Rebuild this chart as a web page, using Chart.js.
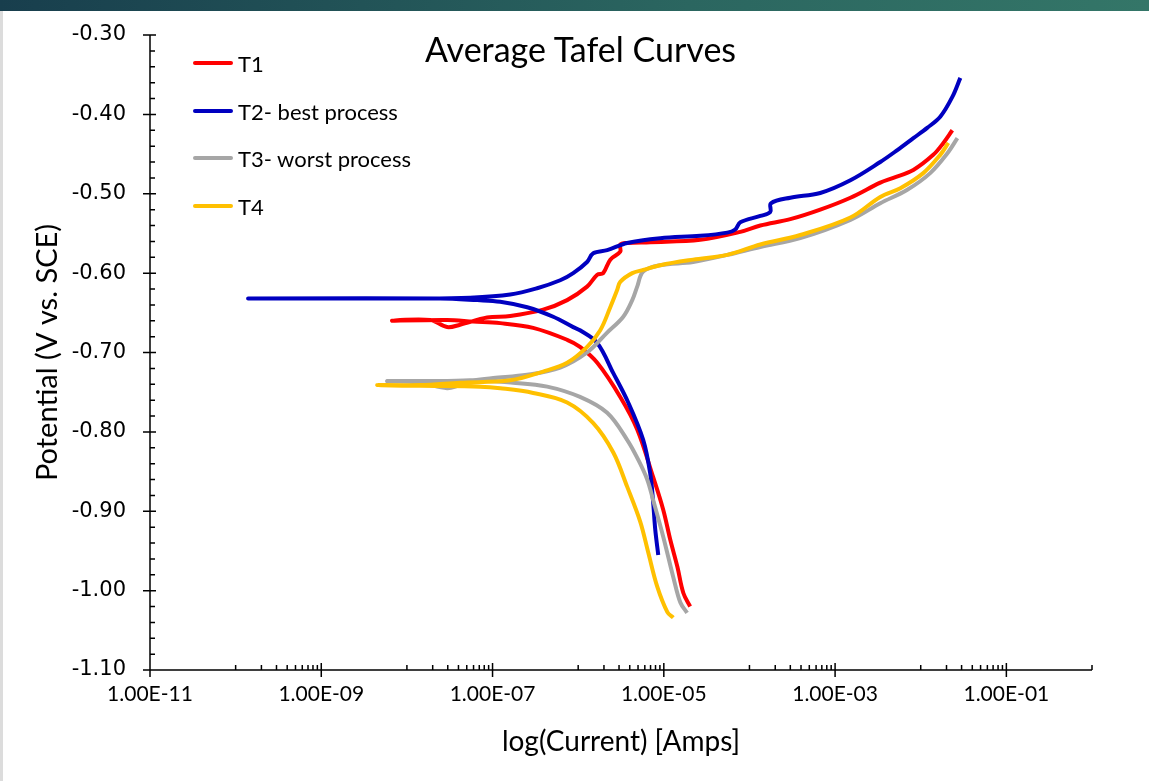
<!DOCTYPE html>
<html>
<head>
<meta charset="utf-8">
<title>Average Tafel Curves</title>
<script src="https://cdn.jsdelivr.net/npm/chart.js@4.4.1/dist/chart.umd.min.js"></script>
<style>
    html, body { margin: 0; padding: 0; background: #ffffff; }
    body { width: 1149px; height: 781px; position: relative; overflow: hidden; font-family: 'Lato', sans-serif; }
    #top-bar { position: absolute; left: 0; top: 0; width: 1149px; height: 11px; background: linear-gradient(to right, #183e4d, #2b6660 60%, #347668); }
    #left-edge { position: absolute; left: 0; top: 11px; width: 3px; height: 770px; background: #dcdcdc; }
    #chart-box { position: absolute; left: 0; top: 0; width: 1149px; height: 781px; }
    #chart-title { position: absolute; left: 0; width: 1161px; top: 28px; text-align: center; font-size: 34px; color: #000; }
    .legend-item { position: absolute; left: 193px; height: 24px; display: flex; align-items: center; font-size: 22px; color: #000; }
    .legend-item .swatch { width: 40px; height: 4px; border-radius: 2px; margin-right: 5px; }
</style>
</head>
<body>
<div id="top-bar"></div>
<div id="left-edge"></div>
<div id="chart-box"><canvas id="tafel-chart" width="1149" height="781"></canvas></div>
<div id="chart-title">Average Tafel Curves</div>
<div id="legend"></div>

<script>
// Series: current (A) and potential (V vs. SCE)
const seriesNames = ['T1', 'T2- best process', 'T3- worst process', 'T4'];
const seriesColors = ['#ff0000', '#0000c0', '#a6a6a6', '#ffc000'];

const t1Current = [2.03e-5, 1.69e-5, 1.44e-5, 1.19e-5, 9.84e-6, 7.51e-6, 4.89e-6, 3.10e-6, 1.67e-6, 1.05e-6, 7.43e-7, 2.98e-7, 1.23e-7, 5.93e-8, 2.95e-8, 6.72e-9, 1.87e-8, 2.95e-8, 4.18e-8, 8.65e-8, 1.61e-7, 3.90e-7, 7.43e-7, 1.27e-6, 1.67e-6, 1.96e-6, 2.37e-6, 3.10e-6, 3.10e-6, 3.73e-6, 6.93e-6, 2.66e-5, 7.82e-5, 1.34e-4, 3.00e-4, 6.71e-4, 1.51e-3, 3.37e-3, 4.79e-3, 8.20e-3, 1.40e-2, 1.84e-2, 2.34e-2];
const t1Potential = [-1.020, -1.003, -0.970, -0.936, -0.898, -0.857, -0.797, -0.756, -0.713, -0.693, -0.684, -0.669, -0.663, -0.661, -0.659, -0.660, -0.659, -0.668, -0.665, -0.656, -0.654, -0.646, -0.634, -0.617, -0.602, -0.600, -0.583, -0.573, -0.564, -0.562, -0.561, -0.558, -0.548, -0.540, -0.532, -0.520, -0.505, -0.486, -0.480, -0.470, -0.451, -0.436, -0.420];

const t2Current = [8.61e-6, 7.94e-6, 7.51e-6, 6.93e-6, 5.74e-6, 3.84e-6, 2.57e-6, 1.67e-6, 1.05e-6, 8.75e-7, 5.11e-7, 2.54e-7, 1.23e-7, 6.61e-8, 2.44e-8, 1.40e-10, 1.43e-8, 5.47e-8, 1.61e-7, 3.32e-7, 6.17e-7, 8.75e-7, 1.27e-6, 1.50e-6, 2.18e-6, 3.73e-6, 9.08e-6, 2.66e-5, 5.51e-5, 6.82e-5, 7.82e-5, 1.34e-4, 1.75e-4, 1.78e-4, 3.00e-4, 6.71e-4, 1.51e-3, 3.37e-3, 5.33e-3, 8.20e-3, 1.19e-2, 1.69e-2, 2.34e-2, 2.90e-2];
const t2Potential = [-0.955, -0.923, -0.889, -0.852, -0.810, -0.763, -0.726, -0.688, -0.672, -0.668, -0.655, -0.643, -0.636, -0.634, -0.632, -0.632, -0.632, -0.631, -0.627, -0.619, -0.609, -0.600, -0.586, -0.575, -0.571, -0.562, -0.556, -0.553, -0.549, -0.545, -0.536, -0.528, -0.523, -0.512, -0.505, -0.499, -0.483, -0.460, -0.445, -0.430, -0.417, -0.403, -0.378, -0.354];

const t3Current = [1.87e-5, 1.56e-5, 1.29e-5, 9.84e-6, 7.51e-6, 6.40e-6, 5.02e-6, 3.73e-6, 2.18e-6, 1.05e-6, 4.35e-7, 1.74e-7, 7.16e-8, 4.18e-8, 2.95e-8, 1.43e-8, 5.87e-9, 1.87e-8, 5.47e-8, 1.02e-7, 2.54e-7, 6.17e-7, 1.27e-6, 2.18e-6, 3.36e-6, 4.28e-6, 4.89e-6, 5.74e-6, 9.08e-6, 2.20e-5, 5.51e-5, 1.34e-4, 3.92e-4, 1.51e-3, 3.37e-3, 6.97e-3, 1.29e-2, 2.05e-2, 2.68e-2];
const t3Potential = [-1.028, -1.015, -0.983, -0.932, -0.886, -0.860, -0.835, -0.810, -0.776, -0.756, -0.743, -0.738, -0.736, -0.741, -0.745, -0.738, -0.736, -0.736, -0.735, -0.732, -0.728, -0.719, -0.700, -0.675, -0.655, -0.634, -0.617, -0.598, -0.590, -0.586, -0.577, -0.567, -0.556, -0.533, -0.512, -0.495, -0.474, -0.449, -0.430];

const t4Current = [1.29e-5, 1.10e-5, 8.38e-6, 6.58e-6, 5.30e-6, 3.73e-6, 2.57e-6, 1.50e-6, 7.43e-7, 2.98e-7, 1.23e-7, 7.16e-8, 1.43e-8, 4.49e-9, 1.43e-8, 4.18e-8, 1.61e-7, 3.90e-7, 7.43e-7, 1.27e-6, 1.81e-6, 2.37e-6, 2.86e-6, 3.10e-6, 4.28e-6, 5.74e-6, 9.08e-6, 2.20e-5, 5.51e-5, 1.34e-4, 3.92e-4, 1.51e-3, 3.37e-3, 5.78e-3, 1.07e-2, 1.69e-2, 2.10e-2];
const t4Potential = [-1.034, -1.027, -0.995, -0.952, -0.913, -0.869, -0.826, -0.789, -0.763, -0.751, -0.745, -0.743, -0.742, -0.741, -0.741, -0.738, -0.735, -0.724, -0.713, -0.693, -0.672, -0.643, -0.621, -0.611, -0.600, -0.596, -0.590, -0.583, -0.577, -0.564, -0.552, -0.530, -0.504, -0.493, -0.474, -0.451, -0.436];

// Axis ticks
const xTickValues = [1e-11, 1e-9, 1e-7, 1e-5, 1e-3, 1e-1];
const xTickLabels = ['1.00E-11', '1.00E-09', '1.00E-07', '1.00E-05', '1.00E-03', '1.00E-01'];
const yTickValues = [-1.10, -1.00, -0.90, -0.80, -0.70, -0.60, -0.50, -0.40, -0.30];
const yTickLabels = ['-1.10', '-1.00', '-0.90', '-0.80', '-0.70', '-0.60', '-0.50', '-0.40', '-0.30'];

document.addEventListener('DOMContentLoaded', function() {
    const currents = [t1Current, t2Current, t3Current, t4Current];
    const potentials = [t1Potential, t2Potential, t3Potential, t4Potential];

    // Legend (same as Excel: short line + text)
    const legendEl = document.getElementById('legend');
    const legendTops = [51, 99, 146, 194];
    seriesNames.forEach((name, i) => {
        const item = document.createElement('div');
        item.className = 'legend-item';
        item.style.top = legendTops[i] + 'px';
        item.innerHTML = '<div class="swatch" style="background:' + seriesColors[i] + '"></div><span>' + name + '</span>';
        legendEl.appendChild(item);
    });

    // Axis lines with major / minor ticks, drawn from the scales
    const axisTicks = {
        id: 'axisTicks',
        afterDraw(chart) {
            const ctx = chart.ctx;
            const xs = chart.scales.x;
            const ys = chart.scales.y;
            const area = chart.chartArea;
            ctx.save();
            ctx.strokeStyle = '#000';
            ctx.lineWidth = 1.5;
            ctx.beginPath();
            ctx.moveTo(area.left, area.top);
            ctx.lineTo(area.left, area.bottom);
            ctx.moveTo(area.left, area.bottom);
            ctx.lineTo(area.right, area.bottom);

            // y: major every 0.1, minor every 0.02
            for (let i = 0; i <= 40; i++) {
                const py = ys.getPixelForValue(-1.10 + i * 0.02);
                if (i % 5 === 0) {
                    ctx.moveTo(area.left - 7, py);
                    ctx.lineTo(area.left + 6, py);
                } else {
                    ctx.moveTo(area.left, py);
                    ctx.lineTo(area.left + 5, py);
                }
            }

            // x: major every two decades, minor k*10^n in the odd decades
            xTickValues.forEach(v => {
                const px = xs.getPixelForValue(v);
                ctx.moveTo(px, area.bottom + 7);
                ctx.lineTo(px, area.bottom - 7);
            });
            for (let e = -10; e <= 0; e += 2) {
                for (let k = 1; k <= 9; k++) {
                    const v = k * Math.pow(10, e);
                    if (v > 1.0000001) break;
                    const px = xs.getPixelForValue(v);
                    ctx.moveTo(px, area.bottom);
                    ctx.lineTo(px, area.bottom - 5);
                }
            }
            ctx.stroke();
            ctx.restore();
        }
    };

    const datasets = seriesNames.map((name, i) => ({
        label: name,
        data: currents[i].map((c, j) => ({ x: c, y: potentials[i][j] })),
        borderColor: seriesColors[i],
        backgroundColor: seriesColors[i],
        borderWidth: 4,
        pointRadius: 0,
        tension: 0.35,
        fill: false,
        order: seriesNames.length - i
    }));

    const ctx = document.getElementById('tafel-chart').getContext('2d');
    new Chart(ctx, {
        type: 'line',
        data: { datasets: datasets },
        options: {
            responsive: false,
            animation: false,
            layout: { padding: { left: 0, top: 35, right: 57, bottom: 0 } },
            plugins: {
                legend: { display: false },
                tooltip: { enabled: false },
                title: { display: false }
            },
            scales: {
                x: {
                    type: 'logarithmic',
                    min: 1e-11,
                    max: 1,
                    grid: { display: false },
                    border: { display: false },
                    afterBuildTicks: scale => {
                        scale.ticks = xTickValues.map(v => ({ value: v }));
                    },
                    afterFit: scale => { scale.height = 111; },
                    ticks: {
                        autoSkip: false,
                        maxRotation: 0,
                        padding: 4,
                        color: '#000',
                        font: { family: 'Lato', size: 21 },
                        callback: (value, index) => xTickLabels[index]
                    },
                    title: {
                        display: true,
                        text: 'log(Current) [Amps]',
                        color: '#000',
                        font: { family: 'Lato', size: 28 },
                        padding: { top: 0, bottom: 22 }
                    }
                },
                y: {
                    type: 'linear',
                    min: -1.10,
                    max: -0.30,
                    grid: { display: false },
                    border: { display: false },
                    afterBuildTicks: scale => {
                        scale.ticks = yTickValues.map(v => ({ value: v }));
                    },
                    afterFit: scale => { scale.width = 150; },
                    ticks: {
                        autoSkip: false,
                        padding: 16,
                        color: '#000',
                        font: { family: 'DejaVu Sans', size: 21 },
                        callback: (value, index) => yTickLabels[index]
                    },
                    title: {
                        display: true,
                        text: 'Potential (V vs. SCE)',
                        color: '#000',
                        font: { family: 'Lato', size: 29 },
                        padding: { top: 30, bottom: 0 }
                    }
                }
            }
        },
        plugins: [axisTicks]
    });
});
</script>
</body>
</html>
